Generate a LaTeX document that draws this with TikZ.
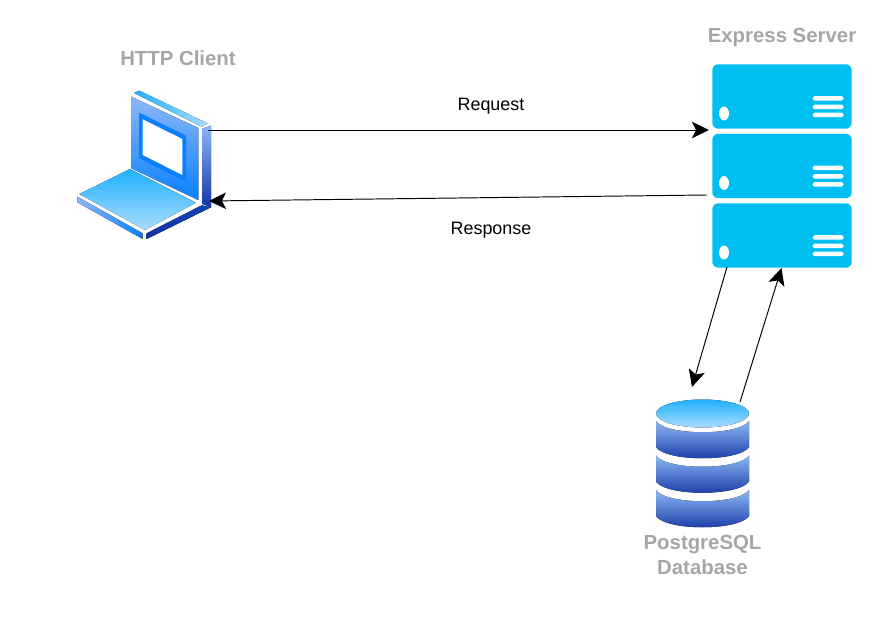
\documentclass[tikz,border=0pt]{standalone}
\usepackage{fontspec}
\setmainfont{Liberation Sans}
\usetikzlibrary{arrows.meta, positioning, shapes.geometric}
\definecolor{srvblue}{HTML}{00BEF2}
\definecolor{lblgray}{HTML}{A6A6A6}
\definecolor{skyblue}{HTML}{1EB0FF}
\definecolor{paleblue}{HTML}{AADCFF}
\definecolor{midblue}{HTML}{0A80FF}
\definecolor{softblue}{HTML}{8CB8F4}
\definecolor{deepblue}{HTML}{1434A4}
\tikzset{
  srvbox/.style={draw=none, fill=srvblue, rounded corners=3.5, minimum width=2.79cm, minimum height=1.29cm, inner sep=0},
  srvbar/.style={fill=white, rounded corners=1, minimum width=0.62cm, minimum height=0.09cm, inner sep=0},
  srvled/.style={ellipse, fill=white, minimum width=0.2cm, minimum height=0.28cm, inner sep=0},
  title/.style={font=\fontsize{11.6}{14.2}\selectfont\bfseries, text=lblgray, align=center},
  msg/.style={font=\fontsize{10.2}{12}\selectfont},
  conn/.style={-{Stealth[length=0.34cm, width=0.33cm, inset=0.08cm]}, line width=0.55pt},
  tier/.style={top color=softblue, bottom color=deepblue}
}
\begin{document}
\begin{tikzpicture}[x=0.02cm, y=-0.02cm]
\useasboundingbox (0,0) rectangle (892,621);

%laptop
\begin{scope}[shift={(60,70)}, scale=1/3]
\fill[left color=skyblue, right color=paleblue] (222,69) -- (238,62) -- (443,160) -- (425,170) -- cycle;
\fill[top color=softblue, bottom color=midblue] (214,80) -- (415,174) -- (415,390) -- (214,295) -- cycle;
\fill[midblue] (237,128) -- (378,197) -- (378,335) -- (237,265) -- cycle;
\fill[white] (248,148) -- (367,207) -- (367,315) -- (248,255) -- cycle;
\fill[top color=softblue, bottom color=deepblue] (427,176) -- (453,167) -- (453,412) -- (427,402) -- cycle;
\fill[top color=skyblue, bottom color=paleblue] (210,297) -- (408,398) -- (255,480) -- (58,372) -- cycle;
\fill[left color=softblue, right color=midblue] (52,380) -- (248,490) -- (248,507) -- (52,397) -- cycle;
\fill[left color=deepblue, right color=deepblue!80!midblue] (260,490) -- (425,406) -- (453,412) -- (260,507) -- cycle;
\end{scope}
\coordinate (laptopout) at (208,130);
\coordinate (laptopin) at (209,201);

%server
\node[srvbox] (srvtop) at (782,96.5) {};
\node[srvbox] (srvmid) at (782,166) {};
\node[srvbox] (srvlow) at (782,235.5) {};
\foreach \srv in {srvtop, srvmid, srvlow} {
  \node[srvled] (\srv led) at ([shift={(-58,17)}]\srv.center) {};
  \node[srvbar] (\srv a) at ([shift={(46,2)}]\srv.center) {};
  \node[srvbar] (\srv b) at ([shift={(46,10.5)}]\srv.center) {};
  \node[srvbar] (\srv c) at ([shift={(46,18.5)}]\srv.center) {};
}
\coordinate (srvin) at (709,130);
\coordinate (srvout) at (707,195);
\coordinate (srvdown) at (727,267);
\coordinate (srvup) at (781.5,268);

%database
\foreach \ty in {0,34.5,69} {
  \fill[tier] (656,421+\ty) .. controls (666,436+\ty) and (739,436+\ty) .. (749,421+\ty)
    -- (749,447+\ty) .. controls (739,462+\ty) and (666,462+\ty) .. (656,447+\ty) -- cycle;
}
\fill[top color=skyblue, bottom color=paleblue] (702.5,413.5) ellipse (46.5 and 14);
\coordinate (dbin) at (692,387);
\coordinate (dbout) at (740,402);

%labels
\node[title] (client) at (178,58) {HTTP Client};
\node[title] (express) at (782,38) {Express Server};
\node[title] (postgres) at (702.5,555) {PostgreSQL\\Database};
\node[msg] (req) at (491,106) {Request};
\node[msg] (resp) at (491,230) {Response};

%connections
\draw[conn] (laptopout) to (srvin);
\draw[conn] (srvout) to (laptopin);
\draw[conn] (srvdown) to (dbin);
\draw[conn] (dbout) to (srvup);
\end{tikzpicture}
\end{document}
